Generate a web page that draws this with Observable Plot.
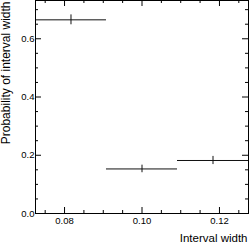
<!DOCTYPE html>
<html>
<head>
<meta charset="utf-8">
<script src="https://cdn.jsdelivr.net/npm/d3@7"></script>
<script src="https://cdn.jsdelivr.net/npm/@observablehq/plot@0.6"></script>
<style>
  html, body { margin: 0; padding: 0; background: white; }
  #chart svg { display: block; }
</style>
</head>
<body>
<div id="chart"></div>
<script>
// Data
const binLow = [0.0725, 0.09083, 0.10917];
const binHigh = [0.09083, 0.10917, 0.1275];
const probability = [0.665, 0.153, 0.182];
const probError = [0.017, 0.013, 0.014];

const xMajorTicks = [0.08, 0.10, 0.12];
const xMinorTicks = [0.075, 0.085, 0.09, 0.095, 0.105, 0.11, 0.115, 0.125];
const yMajorTicks = [0.0, 0.2, 0.4, 0.6];
const yMinorTicks = [0.05, 0.1, 0.15, 0.25, 0.3, 0.35, 0.45, 0.5, 0.55, 0.65, 0.7];

const xTitle = "Interval width";
const yTitle = "Probability of interval width";

const rows = probability.map((p, i) => ({
  lo: binLow[i], hi: binHigh[i], mid: (binLow[i] + binHigh[i]) / 2,
  p, e0: p - probError[i], e1: p + probError[i]
}));

const W = 249, H = 246;
const mL = 35, mR = 1, mT = 0, mB = 33;
const innerW = W - mL - mR, innerH = H - mT - mB;
const major = 6, minor = 3;

const chart = Plot.plot({
  width: W, height: H,
  marginLeft: mL, marginRight: mR, marginTop: mT, marginBottom: mB,
  style: { fontFamily: "'Liberation Sans', Arial, Helvetica, sans-serif", fontSize: "9.5px", background: "white", color: "black" },
  x: { domain: [0.0725, 0.1275] },
  y: { domain: [0, 0.7314] },
  marks: [
    // ticks, inward on all four sides
    Plot.ruleX(xMajorTicks, { insetTop: innerH - major, stroke: "black" }),
    Plot.ruleX(xMinorTicks, { insetTop: innerH - minor, stroke: "black" }),
    Plot.ruleX(xMajorTicks, { insetBottom: innerH - major, stroke: "black" }),
    Plot.ruleX(xMinorTicks, { insetBottom: innerH - minor, stroke: "black" }),
    Plot.ruleY(yMajorTicks, { insetRight: innerW - major, stroke: "black" }),
    Plot.ruleY(yMinorTicks, { insetRight: innerW - minor, stroke: "black" }),
    Plot.ruleY(yMajorTicks, { insetLeft: innerW - major, stroke: "black" }),
    Plot.ruleY(yMinorTicks, { insetLeft: innerW - minor, stroke: "black" }),
    Plot.axisX({ ticks: xMajorTicks, tickSize: 0, tickPadding: 4, tickFormat: d3.format(".2f"), label: null, fontSize: 9.5 }),
    Plot.axisY({ ticks: yMajorTicks, tickSize: 0, tickPadding: 1, tickFormat: d3.format(".1f"), label: null, fontSize: 9.5 }),
    // data
    Plot.ruleY(rows, { x1: "lo", x2: "hi", y: "p", stroke: "#111", strokeWidth: 1 }),
    Plot.ruleX(rows, { x: "mid", y1: "e0", y2: "e1", stroke: "#111", strokeWidth: 1 }),
    Plot.frame({ stroke: "black" }),
    // titles
    Plot.text([xTitle], { frameAnchor: "bottom-right", text: d => d, textAnchor: "end", lineAnchor: "middle", dx: -1, dy: 25, fontSize: 11.5, fill: "black" }),
    Plot.text([yTitle], { frameAnchor: "top-left", text: d => d, rotate: -90, textAnchor: "end", lineAnchor: "middle", dx: -29, dy: 1, fontSize: 12, fill: "black" })
  ]
});
document.getElementById("chart").appendChild(chart);
</script>
</body>
</html>
